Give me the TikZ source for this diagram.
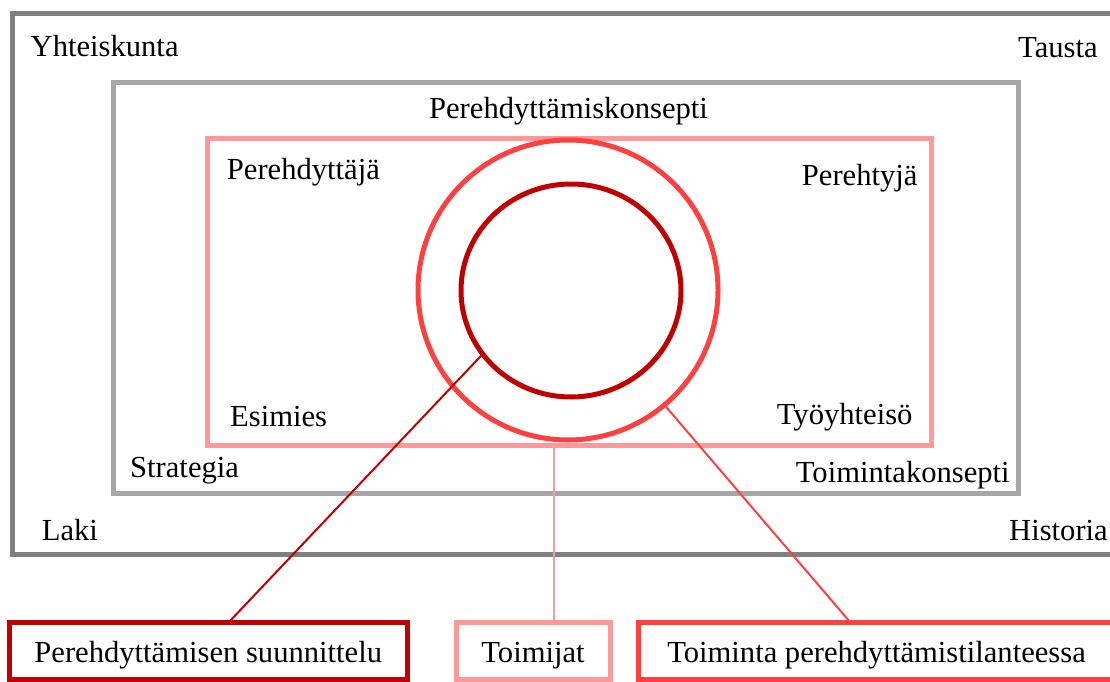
\documentclass[tikz,border=0pt]{standalone}
\usepackage{fontspec}
\setmainfont{Liberation Serif}
\usetikzlibrary{shapes.geometric}
\definecolor{outergray}{HTML}{808080}
\definecolor{midgray}{HTML}{A6A6A6}
\definecolor{rosepink}{HTML}{FF9999}
\definecolor{brightred}{HTML}{FF4040}
\definecolor{darkred}{HTML}{C00000}

\begin{document}
\begin{tikzpicture}[x=1pt, y=-1pt, font=\fontsize{30.6}{36}\selectfont,
  frame/.style={line width=5pt},
  word/.style={anchor=base west, inner sep=0pt},
  link/.style={line width=2pt},
  tag/.style={draw, line width=5pt, inner sep=0pt, text height=30pt,
    text depth=7pt, minimum height=57pt}]
\useasboundingbox (0,0) rectangle (1110,682);
\begin{scope}
\clip (0,0) rectangle (1110,682);

% nested context frames
\draw[frame, outergray] (12,13.5) rectangle (1116,554.5);
\draw[frame, midgray] (113,83) rectangle (1018,493);
\draw[frame, rosepink] (207,138) rectangle (931,445);

% the two rings
\node[circle, draw=brightred, line width=5pt, minimum size=300pt, inner sep=0pt] (outer) at (568,290) {};
\node[ellipse, draw=darkred, line width=5pt, minimum width=220pt, minimum height=213pt, inner sep=0pt] (inner) at (571,290.5) {};

% outer frame labels
\node[word] (society) at (30.5,56.7) {Yhteiskunta};
\node[word] (background) at (1018,58) {Tausta};
\node[word] (law) at (41.7,540) {Laki};
\node[word] (history) at (1009,540) {Historia};

% middle frame labels
\node[anchor=base, inner sep=0pt] (concept) at (568.5,118) {Perehdyttämiskonsepti};
\node[word] (strategy) at (130,477.3) {Strategia};
\node[word] (opconcept) at (795.7,482.7) {Toimintakonsepti};

% inner frame labels
\node[word] (mentor) at (226.7,179.3) {Perehdyttäjä};
\node[word] (newcomer) at (801.7,185) {Perehtyjä};
\node[word] (boss) at (230,426.7) {Esimies};
\node[word] (community) at (776.7,424.3) {Työyhteisö};

% bottom boxes
\node[tag, draw=darkred, minimum width=397.5pt] (plan) at (208.25,650.5) {Perehdyttämisen suunnittelu};
\node[tag, draw=rosepink, minimum width=154pt] (actors) at (533,650.5) {Toimijat};
\node[tag, draw=brightred, minimum width=477pt] (action) at (876.5,650.5) {Toiminta perehdyttämistilanteessa};

% connector ends
\coordinate (planTop) at (229,622);
\coordinate (ringFoot) at (554,445);
\coordinate (actionTop) at (850,622);

% connectors
\draw[link, darkred] (inner.216) -- (planTop);
\draw[link, rosepink] (ringFoot) -- (ringFoot |- actors.north);
\draw[link, brightred] (outer.-50) -- (actionTop);
\end{scope}
\end{tikzpicture}
\end{document}
